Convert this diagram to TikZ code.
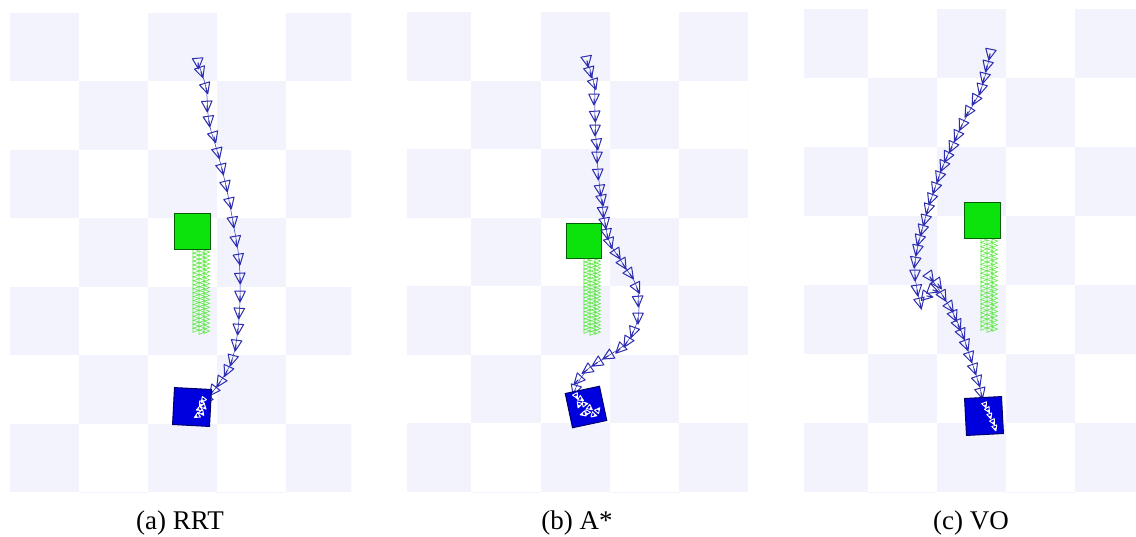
\documentclass[tikz,border=0pt]{standalone}
\usepackage{fontspec}
\setmainfont{Liberation Serif}
\definecolor{boardcol}{RGB}{242,243,253}
\definecolor{trib}{RGB}{45,45,175}
\definecolor{gfill}{RGB}{12,226,12}
\definecolor{gdark}{RGB}{0,95,0}
\definecolor{gtrail}{RGB}{95,232,70}
\definecolor{bfill}{RGB}{0,0,222}
\definecolor{bdark}{RGB}{0,0,105}
\tikzset{
  tri/.style={draw=trib, line width=1pt, line join=round},
  wtri/.style={draw=white, line width=0.9pt, line join=round, scale=0.5},
  gtri/.style={draw=gtrail, line width=0.6pt},
  trailline/.style={draw=trib, line width=0.5pt},
  gsq/.style={fill=gfill, draw=gdark, line width=1pt, minimum size=36pt, inner sep=0pt},
  bsq/.style={fill=bfill, draw=bdark, line width=1pt, minimum size=37pt, inner sep=0pt},
  captext/.style={font=\fontsize{27}{31}\selectfont, inner sep=0pt, anchor=base}
}
% #1 grid origin x, #2 clip left, #3 top, #4 clip right, #5 bottom, #6 cell w, #7 cell h
\newcommand\checkerboard[7]{%
  \begin{scope}
    \clip (#2,#3) rectangle (#4,#5);
    \foreach \r in {0,...,7}{\foreach \c in {0,...,5}{%
      \pgfmathtruncatemacro\parity{mod(\r+\c,2)}%
      \ifnum\parity=0 \fill[boardcol] ({#1+\c*#6},{#3+\r*#7}) rectangle ++(#6,#7);\fi}}
  \end{scope}}
\newcommand\greentrail[3]{%
  \foreach \k in {0,...,20}{%
    \draw[gtri] ({#1+1},{#2+\k*#3}) -- ++(6,2) -- ++(-6,2.4) -- cycle;
    \draw[gtri] ({#1+7},{#2+\k*#3+2}) -- ++(6,2) -- ++(-6,2.4) -- cycle;
    \draw[gtri] ({#1+12},{#2+\k*#3+1}) -- ++(5.5,2) -- ++(-5.5,2.4) -- cycle;}}
% #1 style, #2/#3 point before the first pose, #4 list of poses x/y
\newcommand\posetrail[4]{%
  \foreach \cx/\cy [remember=\cx as \lx (initially #2), remember=\cy as \ly (initially #3)] in {#4}{%
    \pgfmathsetmacro\ang{atan2(\ly-\cy,\cx-\lx)}%
    \draw[shift={(\cx,\cy)}, rotate=\ang, #1] (6,0) -- (-4.8,5.3) -- (-4.8,-5.3) -- cycle (-0.5,0) -- (6,0);}}
\newcommand\posefix[3]{%
  \draw[shift={(#1,#2)}, rotate=#3, tri] (6,0) -- (-4.8,5.3) -- (-4.8,-5.3) -- cycle (-0.5,0) -- (6,0);}
\begin{document}
\begin{tikzpicture}[x=1pt,y=-1pt]
\useasboundingbox (0,0) rectangle (1136,536);
\fill[white] (0,0) rectangle (1136,536);
% ---------- boards
\checkerboard{10}{10}{13}{351}{492}{69}{68.43}
\checkerboard{402.2}{407}{12}{748}{492}{69.2}{68.57}
\checkerboard{799}{804}{9}{1136}{492}{69}{69}
% ================= (a) RRT
\greentrail{192}{249}{3.95}
\node[gsq] (ga) at (192.5,231) {};
\draw[trailline] plot[smooth, tension=0.6] coordinates {(198,63) (206,88) (209,122) (218,154) (226,186) (233,222) (239,259) (240,296) (238,329) (232,360) (220,382) (206,400) (200,410)};
\posetrail{tri}{197}{50}{198/63,201/72,206/88,207/106,209/121,214/137,218/153,222/169,226/186,230/203,233/222,236/241,239/259,240/278,240/296,239/313,238/329,236/345,232/360,227/371,220/382,213/391,206/400,202/408}
\node[bsq, rotate=-3] (ba) at (192,407) {};
\posetrail{wtri}{206}{396}{203/400,201/404,204/407,199/409,202/413,197/416}
\node[captext] (capa) at (180,529) {(a) RRT};
% ================= (b) A*
\greentrail{583}{258}{3.55}
\node[gsq, minimum size=35pt] (gb) at (584,241) {};
\draw[trailline] plot[smooth, tension=0.6] coordinates {(587,61) (594,84) (595,116) (597,157) (600,190) (605,223) (610,243) (623,264) (637,288) (638,318) (627,342) (608,356) (587,370) (575,390) (577,401)};
\posetrail{tri}{585}{50}{587/61,590/72,594/84,594/99,595/116,595/130,597/144,597/157,598/174,600/190,602/200,603/212,605/223,607/234,610/243,617/254,623/264,630/274,637/288,638/301,638/318,633/332,627/342,620/349,608/356,597/363,587/370,578/380,575/390,577/401}
\node[bsq, rotate=12, minimum size=35pt] (bb) at (586,407) {};
\posetrail{wtri}{574}{392}{576/396,581/399,579/405,585/404,590/408,587/413,594/415,598/410,583/414}
\node[captext] (capb) at (577,529) {(b) A*};
% ================= (c) VO
\greentrail{980}{238}{4.4}
\node[gsq] (gc) at (982.5,220) {};
\draw[trailline] plot[smooth, tension=0.6] coordinates {(990,54) (981,89) (962,125) (943,166) (928,209) (917,250) (915,275) (920,303) (922,310)};
\draw[trailline] plot[smooth, tension=0.6] coordinates {(930,277) (943,296) (953,313) (962,333) (970,357) (978,381) (984,404)};
\posetrail{tri}{992}{44}{990/54,987/66,984/78,981/89,975/100,968/112,962/125,957/136,952/147,947/157,943/166,939/177,935/188,931/199,928/209,925/220,922/230,919/240,917/250,915/262,915/275,917/290,920/303}
\posefix{930}{277}{-55}
\posefix{927}{296}{-10}
\posefix{938}{284}{-55}
\posefix{943}{296}{-60}
\posefix{933}{290}{-20}
\posetrail{tri}{944}{298}{950/307,954/316,958/325,962/334,966/345,970/357,974/369,978/381,981/393,984/404}
\node[bsq, rotate=3] (bc) at (984,416) {};
\posetrail{wtri}{983}{400}{985/405,988/410,990/416,993/422,995/428}
\node[captext] (capc) at (971,529) {(c) VO};
\end{tikzpicture}
\end{document}
